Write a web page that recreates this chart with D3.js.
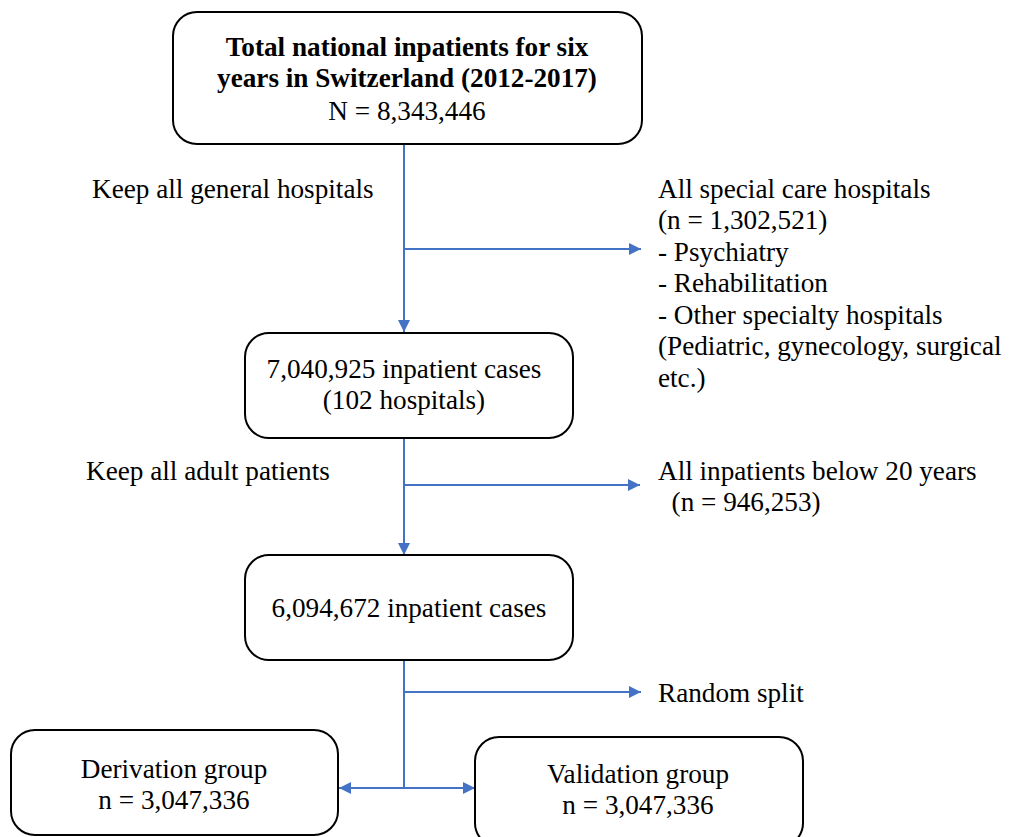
<!DOCTYPE html>
<html>
<head>
<meta charset="utf-8">
<script src="https://cdn.jsdelivr.net/npm/d3@7"></script>
<style>
  html, body { margin: 0; padding: 0; background: #fff; }
  svg { display: block; }
  text { font-family: "Liberation Serif", "Times New Roman", serif; font-size: 27.2px; fill: #000; }
</style>
</head>
<body>
<div id="chart"></div>
<script>
// flow content
const topTitle = ['Total national inpatients for six', 'years in Switzerland (2012-2017)'];
const topCount = 'N = 8,343,446';
const stepBoxes = [
  ['7,040,925 inpatient cases', '(102 hospitals)'],
  ['6,094,672 inpatient cases']
];
const keepLabels = ['Keep all general hospitals', 'Keep all adult patients'];
const excludedLines = [
  ['All special care hospitals', '(n = 1,302,521)', '- Psychiatry', '- Rehabilitation',
   '- Other specialty hospitals', '(Pediatric, gynecology, surgical', 'etc.)'],
  ['All inpatients below 20 years', '  (n = 946,253)'],
  ['Random split']
];
const groupBoxes = [
  ['Derivation group', 'n = 3,047,336'],
  ['Validation group', 'n = 3,047,336']
];

const W = 1010, H = 837;
const blue = '#4472C4';
const lh = 31.5;

const svg = d3.select('#chart').append('svg')
  .attr('width', W).attr('height', H);

const defs = svg.append('defs');
defs.append('marker')
  .attr('id', 'arr')
  .attr('viewBox', '0 0 10 10')
  .attr('refX', 10).attr('refY', 5)
  .attr('markerWidth', 6).attr('markerHeight', 6)
  .attr('markerUnits', 'strokeWidth')
  .attr('orient', 'auto-start-reverse')
  .append('path')
  .attr('d', 'M0,0 L10,5 L0,10 Z')
  .attr('fill', blue);

const cx = 404;

function box(x, y, w, h) {
  svg.append('rect')
    .attr('x', x).attr('y', y)
    .attr('width', w).attr('height', h)
    .attr('rx', 24).attr('ry', 24)
    .attr('fill', '#fff')
    .attr('stroke', '#000')
    .attr('stroke-width', 2);
}

function lines(arr, x, yCenter, anchor, weight) {
  const y0 = yCenter - (arr.length - 1) * lh / 2;
  const t = svg.append('text')
    .attr('text-anchor', anchor || 'middle')
    .attr('font-weight', weight || 'normal');
  arr.forEach((s, i) => {
    t.append('tspan')
      .attr('x', x)
      .attr('y', y0 + i * lh)
      .attr('dy', '0.35em')
      .style('white-space', 'pre')
      .text(s);
  });
  return t;
}

function line(x1, y1, x2, y2, start, end) {
  const l = svg.append('line')
    .attr('x1', x1).attr('y1', y1)
    .attr('x2', x2).attr('y2', y2)
    .attr('stroke', blue)
    .attr('stroke-width', 2);
  if (end) l.attr('marker-end', 'url(#arr)');
  if (start) l.attr('marker-start', 'url(#arr)');
}

// connectors first (boxes are drawn on top)
line(cx, 144, cx, 332, false, true);
line(cx, 249, 641, 249, false, true);
line(cx, 438, cx, 555, false, true);
line(cx, 485, 640, 485, false, true);
line(cx, 660, cx, 788, false, false);
line(cx, 692, 641, 692, false, true);
line(339, 788, 475, 788, true, true);

// top box
box(173, 12, 469, 132);
lines(topTitle, 407, 62, 'middle', 'bold');
lines([topCount], 407, 110);

// step boxes
box(245, 333, 328, 105);
lines(stepBoxes[0], 404, 384);
box(245, 555, 328, 105);
lines(stepBoxes[1], 409, 607);

// group boxes
box(11, 730, 327, 105);
lines(groupBoxes[0], 174, 784);
box(475, 737, 328, 110);
lines(groupBoxes[1], 638, 789);

// side labels
lines([keepLabels[0]], 92, 188, 'start');
lines([keepLabels[1]], 86, 470, 'start');
lines(excludedLines[0], 658, 188 + 3 * lh, 'start');
lines(excludedLines[1], 658, 470 + lh / 2, 'start');
lines(excludedLines[2], 658, 692, 'start');
</script>
</body>
</html>
